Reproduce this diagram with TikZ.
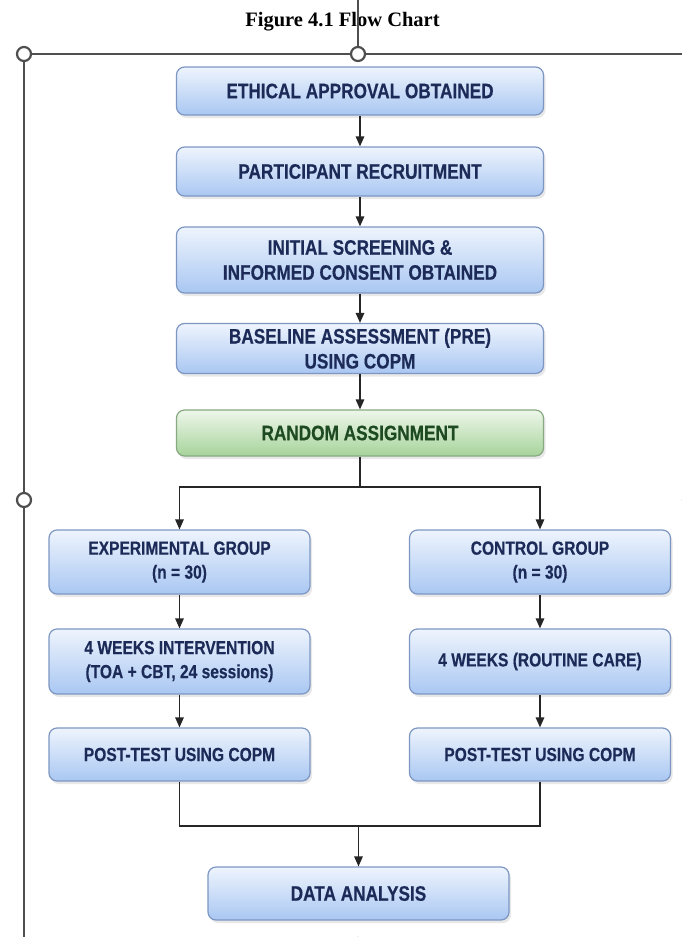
\documentclass[tikz,border=0pt]{standalone}
\usepackage{fontspec}
\setmainfont{Liberation Serif}
\newfontfamily\boxfont[FakeStretch=0.82,FakeBold=0.4]{Liberation Sans}
\usetikzlibrary{arrows.meta}
\usetikzlibrary{shadows}

\definecolor{boxtop}{HTML}{EEF4FD}
\definecolor{boxbot}{HTML}{A9C7F2}
\definecolor{boxline}{HTML}{7D97C2}
\definecolor{boxtext}{HTML}{1C2A58}
\definecolor{grntop}{HTML}{EEF7EA}
\definecolor{grnbot}{HTML}{A6D39B}
\definecolor{grnline}{HTML}{88A982}
\definecolor{grntext}{HTML}{1E4A22}
\definecolor{handlegray}{HTML}{4F4F4F}
\definecolor{linkgray}{HTML}{262626}

\tikzset{
  flowbox/.style={
    draw=boxline, line width=1.2pt, rounded corners=8pt,
    top color=boxtop, bottom color=boxbot, text=boxtext,
    font=\boxfont\bfseries\fontsize{21}{25}\selectfont,
    align=center, inner sep=0pt,
    drop shadow={opacity=0.18, shadow xshift=2pt, shadow yshift=-3pt}},
  greenbox/.style={flowbox, draw=grnline, top color=grntop,
    bottom color=grnbot, text=grntext},
  mainbox/.style={flowbox, minimum width=367pt},
  sidebox/.style={flowbox, minimum width=261pt,
    font=\boxfont\bfseries\fontsize{19}{24}\selectfont},
  link/.style={draw=linkgray, line width=1.4pt},
  linkarrow/.style={link, -{Triangle[length=10pt,width=8.5pt]}},
  handleline/.style={draw=handlegray, line width=1.3pt},
  handle/.style={draw=handlegray, line width=2.2pt, fill=white}
}

\begin{document}
\begin{tikzpicture}[x=1pt,y=-1pt]
  \useasboundingbox (0,0) rectangle (682,937);
  \clip (0,0) rectangle (682,937);
  \fill[white] (0,0) rectangle (682,937);

  \node[anchor=base, font=\bfseries\fontsize{20.5}{24}\selectfont] (title)
    at (342.5,26) {Figure 4.1 Flow Chart};

  \draw[handleline]
    (24,54) -- (700,54)
    (24,54) -- (24,950)
    (358,54) -- (358,0);
  \filldraw[handle]
    (24,54) circle (7pt)
    (358,54) circle (7pt)
    (24,500) circle (7pt)
    (690,54) circle (7pt)
    (690,500) circle (7pt)
    (24,945) circle (7pt)
    (358,945) circle (7pt);

  \node[mainbox, minimum height=48pt] (ethics) at (360,91)
    {ETHICAL APPROVAL OBTAINED};
  \node[mainbox, minimum height=49pt] (recruit) at (360,171.5)
    {PARTICIPANT RECRUITMENT};
  \node[mainbox, minimum height=66pt] (screen) at (360,260)
    {INITIAL SCREENING \&\\INFORMED CONSENT OBTAINED};
  \node[mainbox, minimum height=50pt] (baseline) at (360,348.5)
    {BASELINE ASSESSMENT (PRE)\\USING COPM};
  \node[greenbox, minimum width=367pt, minimum height=46pt] (random) at (360,433)
    {RANDOM ASSIGNMENT};

  \node[sidebox, minimum height=64pt] (expgroup) at (179.5,562)
    {EXPERIMENTAL GROUP\\(n = 30)};
  \node[sidebox, minimum height=65pt] (expweeks) at (179.5,661.5)
    {4 WEEKS INTERVENTION\\(TOA + CBT, 24 sessions)};
  \node[sidebox, minimum height=53pt] (exppost) at (179.5,754.5)
    {POST-TEST USING COPM};

  \node[sidebox, minimum height=64pt] (ctlgroup) at (540,562)
    {CONTROL GROUP\\(n = 30)};
  \node[sidebox, minimum height=65pt] (ctlweeks) at (540,661.5)
    {4 WEEKS (ROUTINE CARE)};
  \node[sidebox, minimum height=53pt] (ctlpost) at (540,754.5)
    {POST-TEST USING COPM};

  \node[flowbox, minimum width=301pt, minimum height=53pt] (analysis) at (358.5,893.5)
    {DATA ANALYSIS};

  \coordinate (split) at (360,487);
  \coordinate (join) at (358.5,826);

  \draw[linkarrow] (ethics) -- (recruit);
  \draw[linkarrow] (recruit) -- (screen);
  \draw[linkarrow] (screen) -- (baseline);
  \draw[linkarrow] (baseline) -- (random);
  \draw[link] (random) -- (split);
  \draw[linkarrow] (split) -| (expgroup);
  \draw[linkarrow] (split) -| (ctlgroup);
  \draw[linkarrow] (expgroup) -- (expweeks);
  \draw[linkarrow] (expweeks) -- (exppost);
  \draw[linkarrow] (ctlgroup) -- (ctlweeks);
  \draw[linkarrow] (ctlweeks) -- (ctlpost);
  \draw[link] (exppost) |- (join);
  \draw[link] (ctlpost) |- (join);
  \draw[linkarrow] (join) -- (analysis);
\end{tikzpicture}
\end{document}
